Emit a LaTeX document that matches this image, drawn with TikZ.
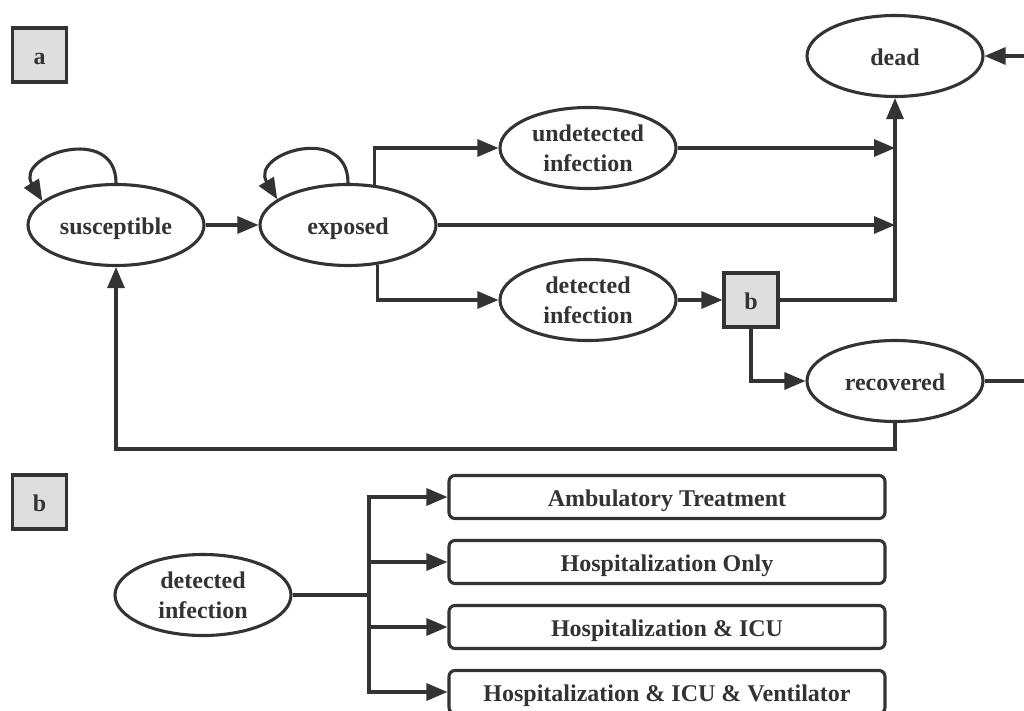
\documentclass[tikz,border=0pt]{standalone}
\usepackage{fontspec}
\setmainfont{Liberation Serif}
\usetikzlibrary{arrows.meta,shapes.geometric,calc}
\definecolor{ink}{HTML}{333333}
\definecolor{boxfill}{HTML}{DEDEDE}
\begin{document}
\begin{tikzpicture}[x=1pt,y=-1pt,
  every node/.style={font=\fontsize{24}{30}\selectfont\bfseries, text=ink},
  oneline/.style={text height=19pt, text depth=0pt},
  state/.style={ellipse, draw=ink, line width=3.1pt, minimum width=176pt, minimum height=81pt, inner sep=0pt, align=center},
  tag/.style={rectangle, draw=ink, fill=boxfill, line width=3.1pt, minimum width=54pt, minimum height=54pt, inner sep=0pt, oneline},
  care/.style={rectangle, rounded corners=6pt, draw=ink, line width=3.1pt, minimum width=436pt, minimum height=43pt, inner sep=0pt, oneline},
  link/.style={draw=ink, line width=3.1pt},
  arr/.style={link, -{Triangle[length=21pt,width=17pt]}}]
\useasboundingbox (0,0) rectangle (1024,711);
% panel labels
\node[tag] (la) at (39.5,55) {a};
\node[tag] (lb) at (39.5,502) {b};
% panel a
\node[state, oneline] (s) at (116,225) {susceptible};
\node[state, oneline] (e) at (348,225) {exposed};
\node[state] (u) at (588,148) {undetected\\infection};
\node[state] (di) at (588,300) {detected\\infection};
\node[state, oneline] (d) at (895,56) {dead};
\node[tag] (b) at (751,300) {b};
\node[state, oneline] (r) at (895,381) {recovered};
\coordinate (din) at (1024,56);
\coordinate (rout) at (1024,381);
\coordinate (fb) at (500,449);
\draw[arr] (s.east) -- (e.west);
\draw[arr] (s.north) .. controls +(0,-60) and +(-28,-46) .. (s.162);
\draw[arr] (e.north) .. controls +(0,-60) and +(-28,-46) .. (e.160);
\draw[arr] (e.57) |- (u.west);
\draw[arr] (e.-53) |- (di.west);
\draw[arr] (e.east) -- (e.east -| d.south);
\draw[arr] (u.east) -- (u.east -| d.south);
\draw[arr] (di.east) -- (b.west);
\draw[arr] (b.east) -| (d.south);
\draw[arr] (b.south) |- (r.west);
\draw[arr] (r.south) |- (fb) -| (s.south);
\draw[link] (r.east) -- (rout);
\draw[arr] (din) -- (d.east);
% panel b
\node[state] (d2) at (203,595) {detected\\infection};
\coordinate (tr) at (369,595);
\node[care] (c1) at (667,497) {Ambulatory Treatment};
\node[care] (c2) at (667,562) {Hospitalization Only};
\node[care] (c3) at (667,627) {Hospitalization \& ICU};
\node[care] (c4) at (667,692) {Hospitalization \& ICU \& Ventilator};
\draw[link] (d2.east) -- (tr);
\foreach \c in {c1,c2,c3,c4} \draw[arr] (tr) |- (\c.west);
\end{tikzpicture}
\end{document}
